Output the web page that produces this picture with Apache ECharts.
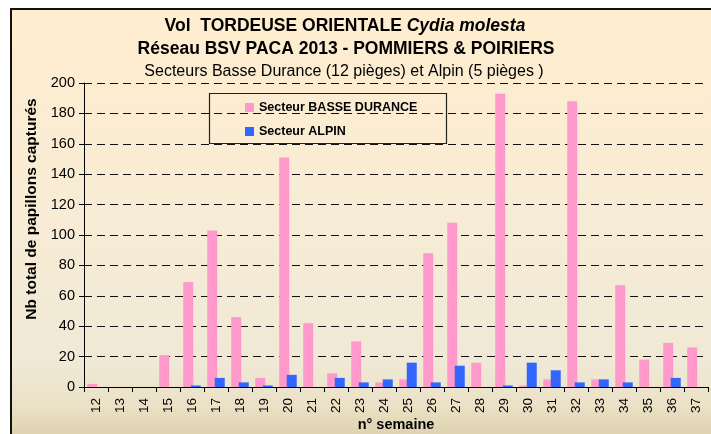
<!DOCTYPE html>
<html>
<head>
<meta charset="utf-8">
<script src="https://cdn.jsdelivr.net/npm/echarts@6/dist/echarts.min.js"></script>
<style>
html,body{margin:0;padding:0;background:#fff;}
#c{width:711px;height:434px;}
</style>
</head>
<body>
<div id="c"></div>
<script>
const categories = ['12','13','14','15','16','17','18','19','20','21','22','23','24','25','26','27','28','29','30','31','32','33','34','35','36','37'];
const basseDurance = [2,0,0,21,69,103,46,6,151,42,9,30,3,5,88,108,16,193,1,5,188,5,67,18,29,26];
const alpin = [0,0,0,0,1,6,3,1,8,0,6,3,5,16,3,14,0,1,16,11,3,5,3,0,6,0];
const yTicks = [0,20,40,60,80,100,120,140,160,180,200];
const seriesNames = ['Secteur BASSE DURANCE','Secteur ALPIN'];

const FONT = '"Liberation Sans", Arial, sans-serif';
const chart = echarts.init(document.getElementById('c'), null, {renderer:'canvas'});
chart.setOption({
  backgroundColor: '#ffffff',
  animation: false,
  graphic: [
    {type:'rect', z:-10, shape:{x:11, y:9, width:720, height:440},
     style:{fill:new echarts.graphic.LinearGradient(0,0,0,1,[
        {offset:0,color:'#FFEDCE'},
        {offset:0.45,color:'#F8ECD5'},
        {offset:0.8,color:'#F0E9D6'},
        {offset:0.9,color:'#EAE1C6'},
        {offset:1,color:'#D8CBA2'}]),
       stroke:'#111', lineWidth:2}},
    {type:'text', z:10, style:{text:'{a|Vol  TORDEUSE ORIENTALE }{b|Cydia molesta}', x:345, y:26, align:'center', verticalAlign:'middle', rich:{
       a:{fontFamily:FONT, fontWeight:'bold', fontSize:17.5, fill:'#000'},
       b:{fontFamily:FONT, fontWeight:'bold', fontStyle:'italic', fontSize:17.5, fill:'#000'}}}},
    {type:'text', z:10, style:{text:'Réseau BSV PACA 2013 - POMMIERS & POIRIERS', x:346, y:49, align:'center', verticalAlign:'middle', font:'bold 17.5px '+FONT, fill:'#000'}},
    {type:'text', z:10, style:{text:'Secteurs Basse Durance (12 pièges) et Alpin (5 pièges )', x:344, y:72, align:'center', verticalAlign:'middle', font:'16px '+FONT, fill:'#000'}},
    {type:'text', z:10, rotation:Math.PI/2, x:32, y:209, style:{text:'Nb total de papillons capturés', align:'center', verticalAlign:'middle', font:'bold 15.5px '+FONT, fill:'#000'}},
    {type:'text', z:10, style:{text:'n° semaine', x:396, y:425, align:'center', verticalAlign:'middle', font:'bold 14.5px '+FONT, fill:'#000'}},
    {type:'rect', z:5, shape:{x:209.5, y:93.5, width:237, height:50}, style:{fill:'transparent', stroke:'#222', lineWidth:1.2}}
  ],
  legend: {
    data: seriesNames,
    orient: 'vertical',
    left: 240, top: 96,
    itemWidth: 9, itemHeight: 9, itemGap: 11,
    icon: 'rect',
    textStyle: {fontFamily: FONT, fontWeight:'bold', fontSize: 12.5, color:'#000'}
  },
  grid: {left:84, right:3, top:83, bottom:47, containLabel:false, outerBoundsMode:'none'},
  xAxis: {
    type:'category', data: categories,
    axisLine:{lineStyle:{color:'#000', width:1}},
    axisTick:{show:true, alignWithLabel:false, length:5, lineStyle:{color:'#000'}},
    axisLabel:{rotate:90, margin:11, fontFamily:FONT, fontSize:13.5, color:'#000', interval:0}
  },
  yAxis: {
    type:'value', min:0, max:200, interval:20,
    axisLine:{show:true, lineStyle:{color:'#000', width:1}},
    axisTick:{show:true, length:5, lineStyle:{color:'#000'}},
    axisLabel:{margin:9, fontFamily:FONT, fontSize:14.5, color:'#000',
      formatter: v => yTicks.includes(v) ? String(v) : ''},
    splitLine:{show:true, lineStyle:{color:'#111', type:[8,5], width:1}}
  },
  series: [
    {name:seriesNames[0], type:'bar', data:basseDurance, barWidth:10, barGap:'-25%',
     itemStyle:{color:'#FF99CC'}},
    {name:seriesNames[1], type:'bar', data:alpin, barWidth:10, barGap:'-25%',
     itemStyle:{color:'#3366FF'}}
  ]
});
</script>
</body>
</html>
